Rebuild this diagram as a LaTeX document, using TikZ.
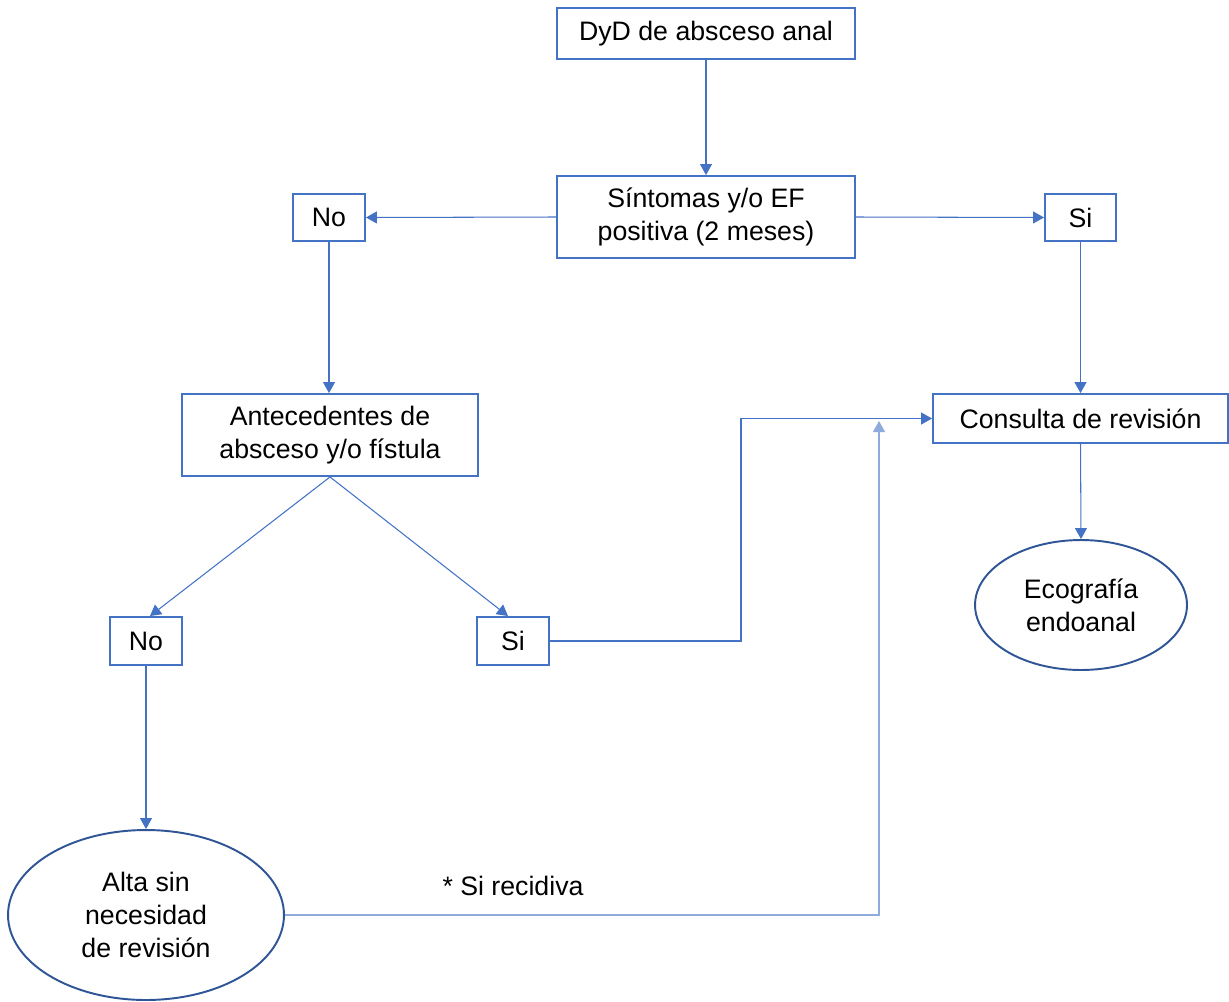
\documentclass[tikz,border=0pt]{standalone}
\usepackage{fontspec}
\setmainfont{Liberation Sans}
\usetikzlibrary{arrows.meta,shapes.geometric}
\definecolor{boxblue}{HTML}{4472C4}
\definecolor{ellblue}{HTML}{2F5597}
\definecolor{lightblue}{HTML}{8FAADC}
\begin{document}
\begin{tikzpicture}[x=0.02cm,y=-0.02cm,
  every node/.style={font=\fontsize{15.2}{19}\selectfont, text=black},
  box/.style={draw=boxblue, line width=1.1pt, rectangle, inner sep=0pt, align=center},
  oval/.style={draw=ellblue, line width=1.1pt, ellipse, inner sep=0pt, align=center},
  conn/.style={draw=boxblue, line width=0.6pt},
  arr/.style={conn, -{Triangle[length=0.22cm,width=0.24cm]}}
]
\useasboundingbox (0,0) rectangle (1229,1001);
\fill[white] (0,0) rectangle (1229,1001);

\node[box, minimum width=5.96cm, minimum height=1.02cm] (dyd) at (706,33.5) {DyD de absceso anal};
\node[box, minimum width=5.96cm, minimum height=1.64cm] (sint) at (706,217) {Síntomas y/o EF\\positiva (2 meses)};
\node[box, minimum width=1.44cm, minimum height=0.94cm] (no1) at (329,217.5) {No};
\node[box, minimum width=1.42cm, minimum height=0.94cm] (si1) at (1080.5,217.5) {Si};
\node[box, minimum width=5.92cm, minimum height=1.64cm] (ant) at (330,435) {Antecedentes de\\absceso y/o fístula};
\node[box, minimum width=5.9cm, minimum height=0.98cm] (cons) at (1080.5,418.5) {Consulta de revisión};
\node[box, minimum width=1.44cm, minimum height=0.96cm] (no2) at (146,641) {No};
\node[box, minimum width=1.44cm, minimum height=0.96cm] (si2) at (513,641) {Si};
\node[oval, minimum width=4.24cm, minimum height=2.6cm] (eco) at (1081,605) {Ecografía\\endoanal};
\node[oval, minimum width=5.52cm, minimum height=3.4cm] (alta) at (146,915) {Alta sin\\necesidad\\de revisión};
\node (rec) at (513,886) {* Si recidiva};

\coordinate (j1) at (741,641);
\coordinate (j2) at (879,421);

\draw[arr] (dyd.south) -- (sint.north);
\draw[arr] (sint.west) -- (no1.east);
\draw[arr] (sint.east) -- (si1.west);
\draw[arr] (no1.south) -- (no1.south |- ant.north);
\draw[arr] (si1.south) -- (si1.south |- cons.north);
\draw[arr] (ant.south) -- ([xshift=0.08cm]no2.north);
\draw[arr] (ant.south) -- ([xshift=-0.1cm]si2.north);
\draw[arr] (si2.east) -- (j1) |- (cons.west);
\draw[arr, draw=lightblue] (alta.east) -| (j2);
\draw[arr] (cons.south) -- (eco.north);
\draw[arr] (no2.south) -- (alta.north);
\end{tikzpicture}
\end{document}
